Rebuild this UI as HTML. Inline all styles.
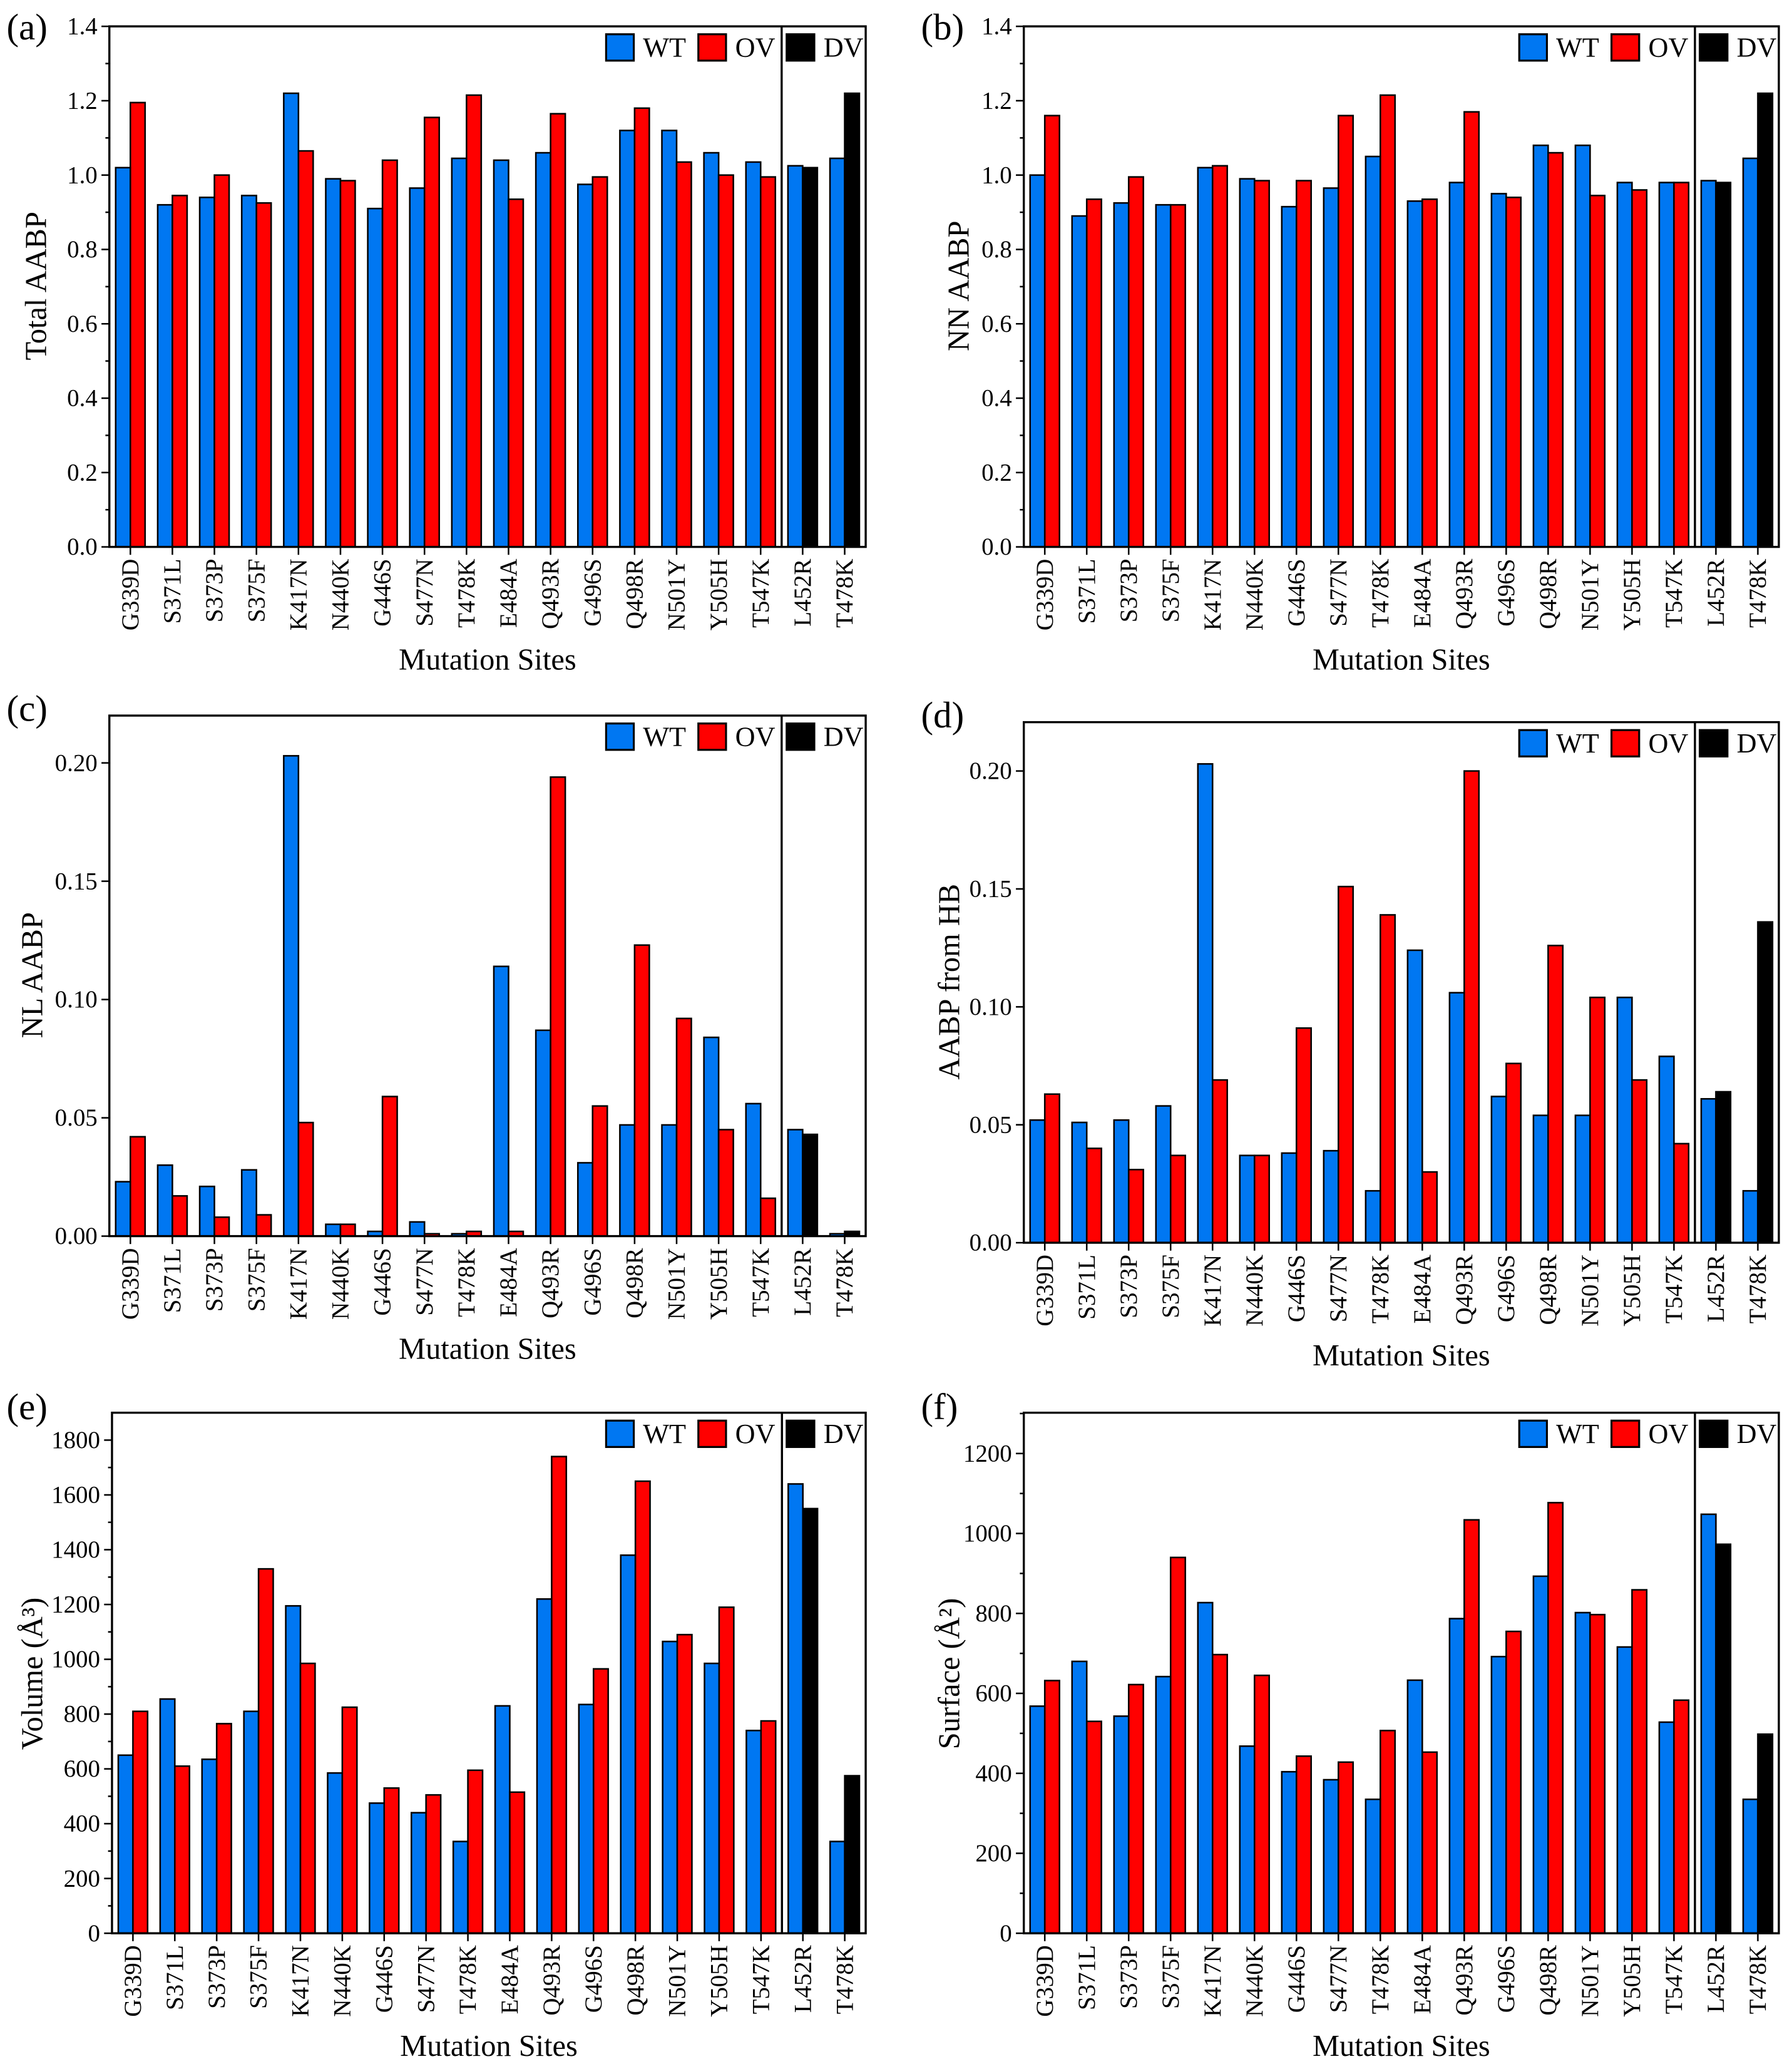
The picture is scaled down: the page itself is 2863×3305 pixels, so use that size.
<!DOCTYPE html>
<html><head><meta charset="utf-8">
<style>
html,body{margin:0;padding:0;background:#fff;}
svg{display:block;}
svg text{font-family:"Liberation Serif","DejaVu Serif","Times New Roman",serif;fill:#000;}
</style></head>
<body>
<svg id="fig" width="2863" height="3305" viewBox="0 0 1360 1570" preserveAspectRatio="none" xmlns="http://www.w3.org/2000/svg"></svg>
<script>
const categories=["G339D","S371L","S373P","S375F","K417N","N440K","G446S","S477N","T478K","E484A","Q493R","G496S","Q498R","N501Y","Y505H","T547K","L452R","T478K"];
const aWT=[1.02,0.92,0.94,0.945,1.22,0.99,0.91,0.965,1.045,1.04,1.06,0.975,1.12,1.12,1.06,1.035,1.025,1.045];
const aOV=[1.195,0.945,1.0,0.925,1.065,0.985,1.04,1.155,1.215,0.935,1.165,0.995,1.18,1.035,1.0,0.995,1.02,1.22];
const bWT=[1.0,0.89,0.925,0.92,1.02,0.99,0.915,0.965,1.05,0.93,0.98,0.95,1.08,1.08,0.98,0.98,0.985,1.045];
const bOV=[1.16,0.935,0.995,0.92,1.025,0.985,0.985,1.16,1.215,0.935,1.17,0.94,1.06,0.945,0.96,0.98,0.98,1.22];
const cWT=[0.023,0.030,0.021,0.028,0.203,0.005,0.002,0.006,0.001,0.114,0.087,0.031,0.047,0.047,0.084,0.056,0.045,0.001];
const cOV=[0.042,0.017,0.008,0.009,0.048,0.005,0.059,0.001,0.002,0.002,0.194,0.055,0.123,0.092,0.045,0.016,0.043,0.002];
const dWT=[0.052,0.051,0.052,0.058,0.203,0.037,0.038,0.039,0.022,0.124,0.106,0.062,0.054,0.054,0.104,0.079,0.061,0.022];
const dOV=[0.063,0.040,0.031,0.037,0.069,0.037,0.091,0.151,0.139,0.030,0.200,0.076,0.126,0.104,0.069,0.042,0.064,0.136];
const eWT=[650,855,635,810,1195,585,475,440,335,830,1220,835,1380,1065,985,740,1640,335];
const eOV=[810,610,765,1330,985,825,530,505,595,515,1740,965,1650,1090,1190,775,1550,575];
const fWT=[568,680,543,642,827,468,404,384,335,633,787,692,893,802,716,528,1048,335];
const fOV=[632,530,622,940,697,645,443,428,507,453,1034,755,1077,797,859,583,973,498];
const ticksAB=["0.0","0.2","0.4","0.6","0.8","1.0","1.2","1.4"];
const ticksCD=["0.00","0.05","0.10","0.15","0.20"];
const ticksE=["0","200","400","600","800","1000","1200","1400","1600","1800"];
const ticksF=["0","200","400","600","800","1000","1200"];

const NS="http://www.w3.org/2000/svg";
const FONT='"Liberation Serif", "DejaVu Serif", "Times New Roman", serif';
const svg=document.getElementById('fig');
function mk(tag,attrs,parent){const e=document.createElementNS(NS,tag);for(const k in attrs)e.setAttribute(k,attrs[k]);if(tag==='text'){e.setAttribute('font-family',FONT);e.style.fontFamily=FONT;}(parent||svg).appendChild(e);return e;}

const panels=[
 {id:"a",L:83,R:657,T:20,B:415,max:1.4,ticks:ticksAB,minor:true,wt:aWT,ov:aOV,title:"Total AABP",tx:27,ty:217,lab:[5,38],xl:500},
 {id:"b",L:777,R:1350,T:20,B:415,max:1.4,ticks:ticksAB,minor:true,wt:bWT,ov:bOV,title:"NN AABP",tx:727,ty:217,lab:[699,38],xl:500},
 {id:"c",L:83,R:657,T:543,B:938,max:0.22,ticks:ticksCD,minor:false,wt:cWT,ov:cOV,title:"NL AABP",tx:24,ty:740,lab:[5,555],xl:1023},
 {id:"d",L:777,R:1350,T:548,B:943,max:0.2207,ticks:ticksCD,minor:false,wt:dWT,ov:dOV,title:"AABP from HB",tx:720,ty:745,lab:[699,560],xl:1028},
 {id:"e",L:85,R:657,T:1072,B:1467,max:1900,ticks:ticksE,minor:true,wt:eWT,ov:eOV,title:"Volume (Å³)",tx:24,ty:1270,lab:[5,1085],xl:1552},
 {id:"f",L:777,R:1350,T:1072,B:1467,max:1302,ticks:ticksF,minor:true,wt:fWT,ov:fOV,title:"Surface (Å²)",tx:720,ty:1270,lab:[699,1085],xl:1552}
];

panels.forEach(p=>{
  const g=mk('g',{});
  
  
  const n=categories.length;
  const step=(p.R-p.L)/n;
  const xC=i=>p.L+step*(i+0.5);
  const yS=v=>p.B-(v/p.max)*(p.B-p.T);
  const bw=step*0.35;
  categories.forEach((c,i)=>{
    const cx=xC(i);
    const r1=mk('rect',{x:cx-bw,y:yS(p.wt[i]),width:bw,height:p.B-yS(p.wt[i]),fill:'#0077f2',stroke:'#000','stroke-width':1.2},g);
    
    
    const dv=i>=16;
    const r2=mk('rect',{x:cx,y:yS(p.ov[i]),width:bw,height:p.B-yS(p.ov[i]),fill:dv?'#000':'#ff0000',stroke:'#000','stroke-width':1.2},g);
    
    
    mk('line',{x1:cx,y1:p.B,x2:cx,y2:p.B+6,stroke:'#000','stroke-width':1.2},g);
    const t=mk('text',{x:0,y:0,'font-size':18.5,'text-anchor':'end',transform:`translate(${cx+6},${p.B+9}) rotate(-90)`},g);
    t.textContent=c;
    
    
  });
  const fr=mk('rect',{x:p.L,y:p.T,width:p.R-p.L,height:p.B-p.T,fill:'none',stroke:'#000','stroke-width':1.6},g);
  
  
  const divx=p.L+step*16;
  const dvl=mk('line',{x1:divx,y1:p.T,x2:divx,y2:p.B,stroke:'#000','stroke-width':1.6},g);
  
  
  p.ticks.forEach((lbl,k)=>{
    const v=parseFloat(lbl);
    const y=yS(v);
    mk('line',{x1:p.L-6,y1:y,x2:p.L,y2:y,stroke:'#000','stroke-width':1.2},g);
    const t=mk('text',{x:p.L-9,y:y+6,'font-size':18.5,'text-anchor':'end'},g);
    t.textContent=lbl;
    
    
    if(p.minor){
      const v2=v+(parseFloat(p.ticks[1])-parseFloat(p.ticks[0]))/2;
      if(v2<p.max){const y2=yS(v2);mk('line',{x1:p.L-3,y1:y2,x2:p.L,y2:y2,stroke:'#000','stroke-width':1.2},g);}
    }
  });
  const yt=mk('text',{x:0,y:0,'font-size':23,'text-anchor':'middle',transform:`translate(${p.tx+8},${p.ty}) rotate(-90)`},g);
  yt.textContent=p.title;
  
  
  const xt=mk('text',{x:(p.L+p.R)/2,y:p.xl+8,'font-size':23,'text-anchor':'middle'},g);
  xt.textContent="Mutation Sites";
  
  
  const pl=mk('text',{x:p.lab[0],y:p.lab[1]-8,'font-size':28},g);
  pl.textContent="("+p.id+")";
  
  
  const lg=mk('g',{},g);
  
  
  const ly=p.T+6;
  [["WT","#0077f2",p.R-197],["OV","#ff0000",p.R-127],["DV","#000",p.R-60]].forEach(e=>{
    mk('rect',{x:e[2],y:ly,width:21,height:20,fill:e[1],stroke:'#000','stroke-width':1.5},lg);
    const t=mk('text',{x:e[2]+28,y:ly+17,'font-size':21},lg);
    t.textContent=e[0];
    
    
  });
});
</script>
</body></html>
